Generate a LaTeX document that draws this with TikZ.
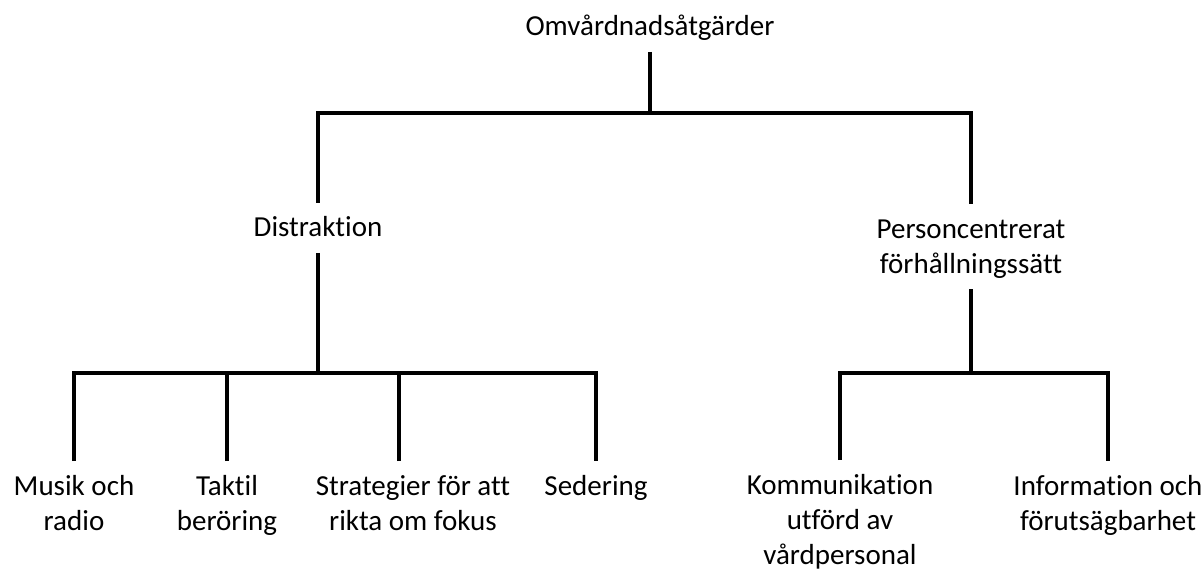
\documentclass[tikz,border=0pt]{standalone}
\usepackage{fontspec}
\setmainfont{Carlito}[Ligatures=NoCommon]
\newcommand\ls{\rule[-5pt]{0pt}{28pt}}
\begin{document}
\begin{tikzpicture}[x=1pt,y=-1pt,
  lbl/.style={font=\fontsize{29}{35}\selectfont, align=center, inner sep=0pt, outer ysep=11pt, anchor=north},
  conn/.style={line width=3.2pt, line join=miter}]
\useasboundingbox (0,0) rectangle (1204,569);
% nodes
\node[lbl] (root) at (650,2) {\ls Omvårdnadsåtgärder};
\node[lbl] (dis) at (318,203) {\ls Distraktion};
\node[lbl] (pcf) at (971,204) {\ls Personcentrerat\\\ls förhållningssätt};
\node[lbl] (musik) at (74,461) {\ls Musik och\\\ls radio};
\node[lbl] (taktil) at (227,461) {\ls Taktil\\\ls beröring};
\node[lbl] (strat) at (413,461) {\ls Strategier för att\\\ls rikta om fokus};
\node[lbl] (sed) at (596,461) {\ls Sedering};
\node[lbl] (komm) at (840,460) {\ls Kommunikation\\\ls utförd av\\\ls vårdpersonal};
\node[lbl] (info) at (1108,461) {\ls Information och\\\ls förutsägbarhet};
% junctions
\coordinate (j0) at (650,113);
\coordinate (j1) at (318,373);
\coordinate (j2) at (971,373);
\coordinate (st) at (399,461);
% connectors
\draw[conn] (root.south) -- (j0);
\draw[conn] (dis.north) |- (j0) -| (pcf.north);
\draw[conn] (dis.south) -- (j1);
\draw[conn] (musik.north) |- (j1) -| (sed.north);
\draw[conn] (taktil.north) -- (taktil.north |- j1);
\draw[conn] (st) -- (st |- j1);
\draw[conn] (pcf.south) -- (j2);
\draw[conn] (komm.north) |- (j2) -| (info.north);
\end{tikzpicture}
\end{document}
